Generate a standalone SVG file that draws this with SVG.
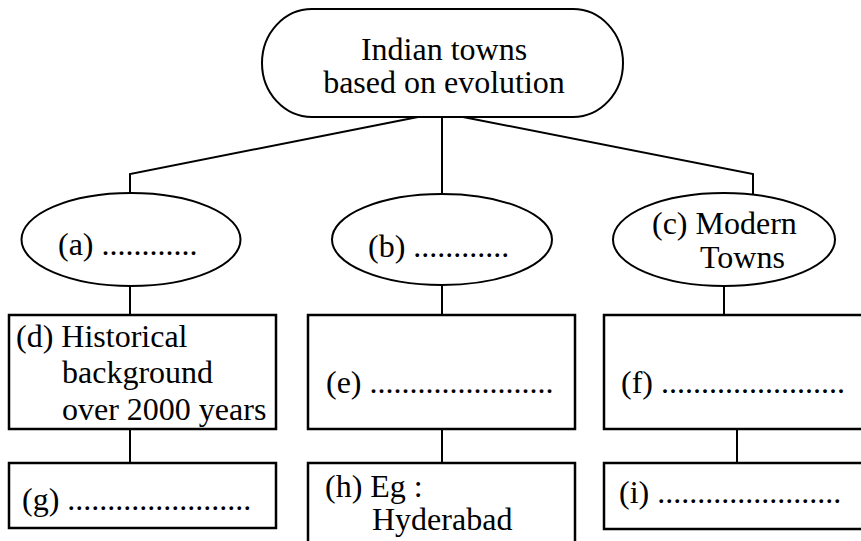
<svg xmlns="http://www.w3.org/2000/svg" width="861" height="541" viewBox="0 0 861 541">
<style>
.shape{fill:#fff;stroke:#000;stroke-width:2}
.box{fill:#fff;stroke:#000;stroke-width:2.5}
.conn{fill:none;stroke:#000;stroke-width:2}
.t{font-family:'Liberation Serif','Times New Roman',Tinos,'Nimbus Roman','DejaVu Serif',serif;font-size:32px;fill:#000}
</style>
<rect width="861" height="541" fill="#fff"/>
<g id="connectors">
<polyline class="conn" points="418,117 130,174 130,194"/>
<line class="conn" x1="442" y1="117" x2="442" y2="194"/>
<polyline class="conn" points="463,117 753,174 753,195"/>
<line class="conn" x1="130" y1="286" x2="130" y2="315"/>
<line class="conn" x1="442" y1="285" x2="442" y2="315"/>
<line class="conn" x1="724" y1="286" x2="724" y2="315"/>
<line class="conn" x1="130" y1="429" x2="130" y2="463"/>
<line class="conn" x1="442" y1="429" x2="442" y2="463"/>
<line class="conn" x1="737" y1="429" x2="737" y2="463"/>
</g>
<g class="t" font-family="Liberation Serif, Times New Roman, serif">
<g id="root">
<rect class="shape" x="262" y="9" width="361" height="108" rx="50" ry="54"/>
<text x="444" y="60" text-anchor="middle">Indian towns</text>
<text x="444" y="93" text-anchor="middle">based on evolution</text>
</g>
<g id="node-a">
<ellipse class="shape" cx="131" cy="239.5" rx="109.5" ry="46.5"/>
<text x="58" y="255">(a) ............</text>
</g>
<g id="node-b">
<ellipse class="shape" cx="442" cy="239.5" rx="110" ry="45.5"/>
<text x="368" y="257">(b) ............</text>
</g>
<g id="node-c">
<ellipse class="shape" cx="724" cy="239.5" rx="111" ry="46.5"/>
<text x="652" y="234">(c) Modern</text>
<text x="700" y="268">Towns</text>
</g>
<g id="node-d">
<rect class="box" x="9" y="315" width="267" height="114"/>
<text x="16" y="347">(d) Historical</text>
<text x="62" y="383">background</text>
<text x="62" y="420">over 2000 years</text>
</g>
<g id="node-e">
<rect class="box" x="308" y="315" width="267" height="114"/>
<text x="326" y="393">(e) .......................</text>
</g>
<g id="node-f">
<rect class="box" x="604" y="315" width="270" height="114"/>
<text x="621" y="393">(f) .......................</text>
</g>
<g id="node-g">
<rect class="box" x="9" y="463" width="267" height="65"/>
<text x="22" y="510">(g) .......................</text>
</g>
<g id="node-h">
<rect class="box" x="308" y="463" width="267" height="90"/>
<text x="325" y="497">(h) Eg :</text>
<text x="372" y="530">Hyderabad</text>
</g>
<g id="node-i">
<rect class="box" x="604" y="463" width="270" height="66"/>
<text x="619" y="503">(i) .......................</text>
</g>
</g>
</svg>
